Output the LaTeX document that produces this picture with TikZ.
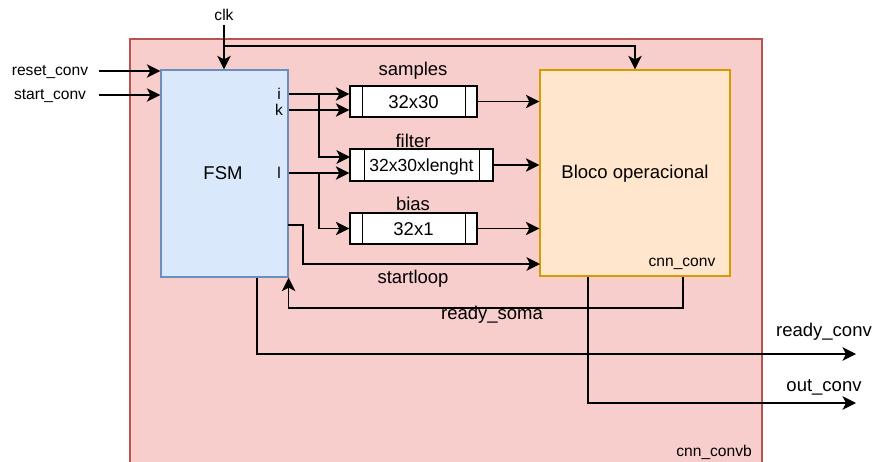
\documentclass[tikz,border=0pt]{standalone}
\usepackage{fontspec}
\setmainfont{Liberation Sans}
\usetikzlibrary{arrows.meta,calc}
\definecolor{outerfill}{HTML}{F8CECC}
\definecolor{outerline}{HTML}{B85450}
\definecolor{fsmfill}{HTML}{DAE8FC}
\definecolor{fsmline}{HTML}{6C8EBF}
\definecolor{opfill}{HTML}{FFE6CC}
\definecolor{opline}{HTML}{D79B00}
\begin{document}
\begin{tikzpicture}[x=1pt,y=-1pt,
  big/.style={font=\fontsize{18.5}{20}\selectfont, inner sep=0pt, text height=13.3pt, text depth=3.9pt},
  small/.style={font=\fontsize{15.6}{17}\selectfont, inner sep=0pt, text height=11.2pt, text depth=3.3pt},
  blk/.style={line width=1.3pt, inner sep=0pt},
  reg/.style={draw=black, fill=white, line width=1.3pt, inner sep=0pt, minimum height=31pt,
              font=\fontsize{18.5}{20}\selectfont, text height=15.5pt, text depth=2.1pt},
  wire/.style={line width=1.4pt, draw=black},
  arr/.style={wire, -{Stealth[length=13.5pt,width=13.5pt,inset=3.5pt]}},
]
\useasboundingbox (0,0) rectangle (874,461);
\clip (0,0) rectangle (874,461);

% enclosing block
\node[blk, draw=outerline, fill=outerfill, minimum width=632pt, minimum height=440pt]
  (top) at (446,259) {};
\node[small, anchor=south east] (topname) at (752,460) {cnn\_convb};

% control unit and datapath
\node[blk, draw=fsmline, fill=fsmfill, minimum width=127pt, minimum height=207pt]
  (fsm) at (224.5,173.5) {};
\node[big] (fsmname) at (223,174.5) {FSM};
\node[blk, draw=opline, fill=opfill, minimum width=190pt, minimum height=206pt]
  (op) at (635,173) {};
\node[big] (opname) at (635,174) {Bloco operacional};
\node[small] (opinst) at (682,262.5) {cnn\_conv};

% registers
\node[reg, minimum width=127pt] (samp) at (413.5,101.5) {32x30};
\node[reg, minimum width=143pt, minimum height=32pt, font=\fontsize{17.5}{19}\selectfont]
  (filt) at (421.5,165) {32x30xlenght};
\node[reg, minimum width=127pt] (bias) at (413.5,228.5) {32x1};
\draw[wire] ([xshift=13pt]samp.north west) -- ([xshift=13pt]samp.south west)
            ([xshift=-12pt]samp.north east) -- ([xshift=-12pt]samp.south east);
\draw[wire] ([xshift=15pt]filt.north west) -- ([xshift=15pt]filt.south west)
            ([xshift=-14pt]filt.north east) -- ([xshift=-14pt]filt.south east);
\draw[wire] ([xshift=13pt]bias.north west) -- ([xshift=13pt]bias.south west)
            ([xshift=-12pt]bias.north east) -- ([xshift=-12pt]bias.south east);
\node[big] (sampname) at (413,71) {samples};
\node[big] (filtname) at (413,142.5) {filter};
\node[big] (biasname) at (413,206) {bias};

% port labels
\node[small] (clk) at (224,16.5) {clk};
\node[small] (lreset) at (50,72) {reset\_conv};
\node[small] (lstart) at (50,96) {start\_conv};
\node[small] (li) at (279,95.5) {i};
\node[small] (lk) at (279,112) {k};
\node[small] (ll) at (279,175) {l};
\node[big] (lloop) at (413,279) {startloop};
\node[big] (lsoma) at (492,315) {ready\_soma};
\node[big] (lready) at (824,332) {ready\_conv};
\node[big] (lout) at (824,387) {out\_conv};

% routing points
\coordinate (pi) at (288,94);
\coordinate (pk) at (288,110);
\coordinate (pl) at (288,173);
\coordinate (preset) at (0,71);
\coordinate (pstart) at (0,95);
\coordinate (clkbus) at (224,46);
\coordinate (ibr) at (319,94);
\coordinate (lbr) at (319,173);
\coordinate (filti) at (350,157);
\coordinate (loopa) at (288,225);
\coordinate (loopb) at (303,225);
\coordinate (loopc) at (540,264);
\coordinate (somax) at (683,0);
\coordinate (somay) at (0,308);
\coordinate (rdyx) at (257,0);
\coordinate (rdyend) at (856,354);
\coordinate (outx) at (588,0);
\coordinate (outend) at (856,403);

% clock
\draw[arr] ([yshift=-1pt]clk.south) -- (clk.south |- fsm.north);
\draw[arr] (clkbus) -| (op.north);

% external inputs
\draw[arr] ([xshift=11pt]lreset.east |- preset) -- (fsm.west |- preset);
\draw[arr] ([xshift=13pt]lstart.east |- pstart) -- (fsm.west |- pstart);

% FSM to registers
\draw[arr] (fsm.east |- pi) -- (samp.west |- pi);
\draw[arr] (fsm.east |- pk) -- (samp.west |- pk);
\draw[arr] (ibr) |- (filti);
\draw[arr] (fsm.east |- pl) -- (filt.west |- pl);
\draw[arr] (lbr) |- (bias.west);

% registers to datapath
\draw[arr] (samp.east) -- (op.west |- samp.east);
\draw[arr] (filt.east) -- (op.west |- filt.east);
\draw[arr] (bias.east) -- (op.west |- bias.east);

% handshake
\draw[arr] (loopa) -- (loopb) |- (loopc);
\draw[arr] (op.south -| somax) |- (fsm.south east |- somay) -- (fsm.south east);

% outputs
\draw[arr] (fsm.south -| rdyx) |- (rdyend);
\draw[arr] (op.south -| outx) |- (outend);
\end{tikzpicture}
\end{document}
